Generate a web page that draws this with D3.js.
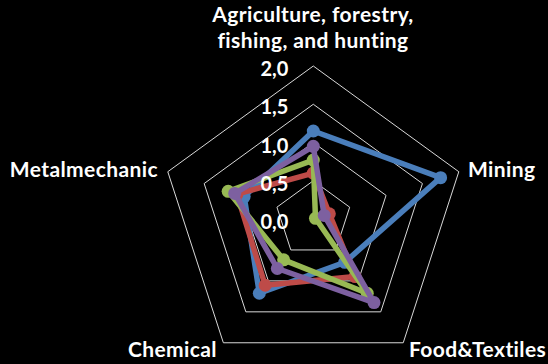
<!DOCTYPE html>
<html>
<head>
<meta charset="utf-8">
<script src="https://cdn.jsdelivr.net/npm/d3@7"></script>
<style>
  html, body { margin: 0; padding: 0; background: #000; }
  svg { display: block; }
  text { font-family: Lato, "Open Sans", sans-serif; font-weight: bold; fill: #fff; }
</style>
</head>
<body>
<svg id="chart" width="548" height="364"></svg>
<script>
// Axis categories, clockwise from the top
const categories = ["Agriculture, forestry, fishing, and hunting", "Mining", "Food&Textiles", "Chemical", "Metalmechanic"];
// Series values, one per category
const seriesBlue   = [1.15, 1.75, 0.70, 1.20, 0.95];
const seriesRed    = [0.60, 0.22, 0.93, 1.07, 1.05];
const seriesGreen  = [0.77, 0.03, 1.20, 0.66, 1.17];
const seriesPurple = [0.95, 0.15, 1.35, 0.80, 1.08];
const tickValues = [0.0, 0.5, 1.0, 1.5, 2.0];
const tickLabels = ["0,0", "0,5", "1,0", "1,5", "2,0"];

const series = [
  { values: seriesBlue,   color: "#4a7ebb" },
  { values: seriesRed,    color: "#be4b48" },
  { values: seriesGreen,  color: "#98b954" },
  { values: seriesPurple, color: "#7d60a0" }
];

const svg = d3.select("#chart");
const cx = 313.3, cy = 219;
const g = svg.append("g").attr("transform", `translate(${cx},${cy})`);

const r = d3.scaleLinear().domain([0, 2]).range([0, 153]);
const angle = d3.scalePoint().domain(d3.range(categories.length)).range([0, 2 * Math.PI * (categories.length - 1) / categories.length]);

const pt = (i, v) => {
  const a = angle(i);
  return [r(v) * Math.sin(a), -r(v) * Math.cos(a)];
};

// Grid rings (pentagons) for each non-zero tick
const ringLine = d3.lineRadial().angle((d, i) => angle(i)).radius(d => r(d)).curve(d3.curveLinearClosed);
g.selectAll(".ring")
  .data(tickValues.filter(v => v > 0))
  .join("path")
  .attr("class", "ring")
  .attr("d", v => ringLine(categories.map(() => v)))
  .attr("fill", "none")
  .attr("stroke", "#d9d9d9")
  .attr("stroke-width", 1);

// Series polygons
const seriesLine = d3.lineRadial().angle((d, i) => angle(i)).radius(d => r(d)).curve(d3.curveLinearClosed);
const sg = g.selectAll(".series").data(series).join("g").attr("class", "series");
sg.append("path")
  .attr("d", d => seriesLine(d.values))
  .attr("fill", "none")
  .attr("stroke", d => d.color)
  .attr("stroke-width", 5.5)
  .attr("stroke-linejoin", "round");
sg.selectAll("circle")
  .data(d => d.values.map((v, i) => ({ v, i, color: d.color })))
  .join("circle")
  .attr("cx", d => pt(d.i, d.v)[0])
  .attr("cy", d => pt(d.i, d.v)[1])
  .attr("r", 6.5)
  .attr("fill", d => d.color);

// Tick labels along the vertical axis, drawn above the series
g.selectAll(".tick")
  .data(tickValues)
  .join("text")
  .attr("class", "tick")
  .attr("x", -25)
  .attr("y", v => -r(v) + 5)
  .attr("text-anchor", "end")
  .attr("dominant-baseline", "middle")
  .attr("font-size", 20)
  .text((v, i) => tickLabels[i]);

// Category labels
const labelFont = 21;
const label = (x, y, anchor, txt) => svg.append("text")
  .attr("x", x).attr("y", y)
  .attr("text-anchor", anchor)
  .attr("font-size", labelFont)
  .attr("letter-spacing", 0.4)
  .text(txt);
label(313, 22, "middle", "Agriculture, forestry,");
label(313, 48, "middle", "fishing, and hunting");
label(468, 177, "start", categories[1]);
label(409, 357, "start", categories[2]);
label(217, 357, "end", categories[3]);
label(158, 177, "end", categories[4]);
</script>
</body>
</html>
